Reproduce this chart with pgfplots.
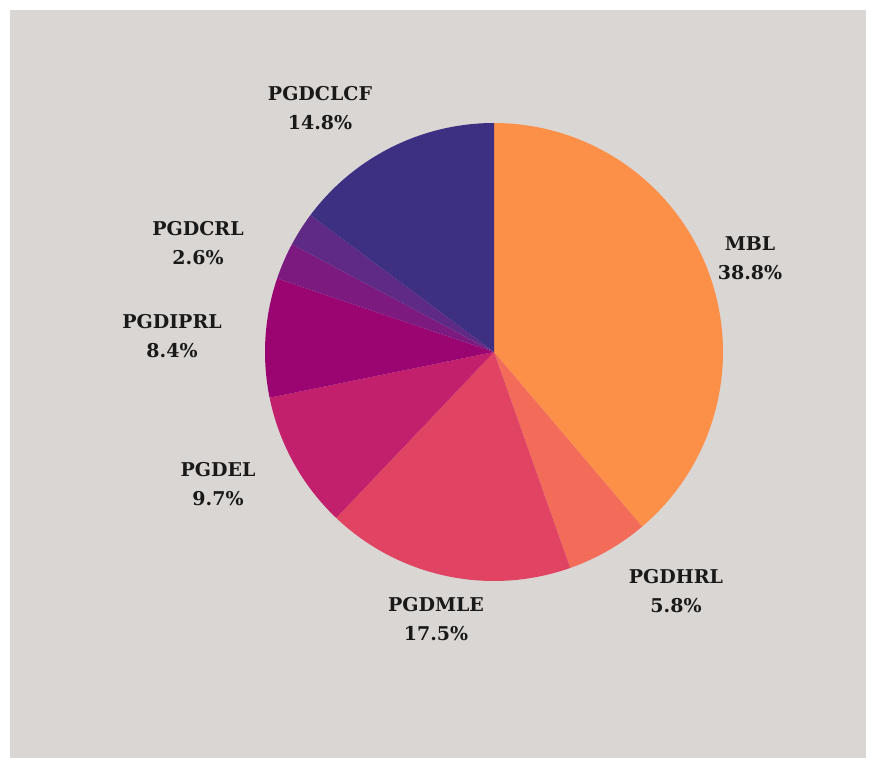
\documentclass[border=0pt]{standalone}
\usepackage{pgfplots}
\pgfplotsset{compat=1.18}
\usepackage{fontspec}
\setmainfont{DejaVu Serif}
\definecolor{bgc}{HTML}{DAD6D3}
\definecolor{cA}{HTML}{FD9049}
\definecolor{cB}{HTML}{F36C5A}
\definecolor{cC}{HTML}{E04462}
\definecolor{cD}{HTML}{C21F6D}
\definecolor{cE}{HTML}{9A0572}
\definecolor{cF}{HTML}{7C1A80}
\definecolor{cG}{HTML}{5F2A86}
\definecolor{cH}{HTML}{3D2F82}
\begin{document}
\begin{tikzpicture}
\path (0,0) rectangle (871pt,758pt);
\fill[bgc] (10pt,0pt) rectangle (866pt,748pt);
\begin{axis}[
  at={(0,0)}, anchor=south west,
  width=871pt, height=758pt, scale only axis,
  xmin=0, xmax=871, ymin=0, ymax=758,
  hide axis, clip=false,
  every axis plot/.append style={draw=none, samples=90, variable=\t},
]
% percentages (clockwise from top): 38.8, 5.8, 17.5, 9.7, 8.4, 2.6, 2.4, 14.8
\def\cx{494}\def\cy{406}\def\R{229}
\addplot[fill=cA, domain={90}:{90-3.6*38.8}] ({\cx+\R*cos(t)},{\cy+\R*sin(t)}) -- (axis cs:\cx,\cy) -- cycle;
\addplot[fill=cB, domain={90-3.6*38.8}:{90-3.6*44.6}] ({\cx+\R*cos(t)},{\cy+\R*sin(t)}) -- (axis cs:\cx,\cy) -- cycle;
\addplot[fill=cC, domain={90-3.6*44.6}:{90-3.6*62.1}] ({\cx+\R*cos(t)},{\cy+\R*sin(t)}) -- (axis cs:\cx,\cy) -- cycle;
\addplot[fill=cD, domain={90-3.6*62.1}:{90-3.6*71.8}] ({\cx+\R*cos(t)},{\cy+\R*sin(t)}) -- (axis cs:\cx,\cy) -- cycle;
\addplot[fill=cE, domain={90-3.6*71.8}:{90-3.6*80.2}] ({\cx+\R*cos(t)},{\cy+\R*sin(t)}) -- (axis cs:\cx,\cy) -- cycle;
\addplot[fill=cF, domain={90-3.6*80.2}:{90-3.6*82.8}] ({\cx+\R*cos(t)},{\cy+\R*sin(t)}) -- (axis cs:\cx,\cy) -- cycle;
\addplot[fill=cG, domain={90-3.6*82.8}:{90-3.6*85.2}] ({\cx+\R*cos(t)},{\cy+\R*sin(t)}) -- (axis cs:\cx,\cy) -- cycle;
\addplot[fill=cH, domain={90-3.6*85.2}:{90-3.6*100}] ({\cx+\R*cos(t)},{\cy+\R*sin(t)}) -- (axis cs:\cx,\cy) -- cycle;
\tikzset{lbl/.style={align=center, text=black!90, font=\bfseries\fontsize{19}{29}\selectfont}}
\node[lbl] at (axis cs:750,500) {MBL\\38.8\%};
\node[lbl] at (axis cs:676,167) {PGDHRL\\5.8\%};
\node[lbl] at (axis cs:436,139) {PGDMLE\\17.5\%};
\node[lbl] at (axis cs:218,274) {PGDEL\\9.7\%};
\node[lbl] at (axis cs:172,422) {PGDIPRL\\8.4\%};
\node[lbl] at (axis cs:198,515) {PGDCRL\\2.6\%};
\node[lbl] at (axis cs:320,650) {PGDCLCF\\14.8\%};
\end{axis}
\end{tikzpicture}
\end{document}
